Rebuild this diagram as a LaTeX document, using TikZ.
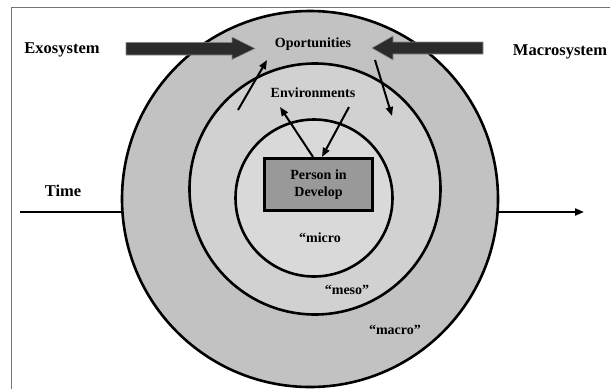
\documentclass[tikz,border=0pt]{standalone}
\usepackage{fontspec}
\setmainfont{Liberation Serif}
\usetikzlibrary{arrows.meta}
\begin{document}
\begin{tikzpicture}[x=1pt,y=-1pt,
  ring/.style={circle,draw=black,line width=2.6pt,inner sep=0pt},
  lbl/.style={font=\bfseries\fontsize{14}{16}\selectfont,inner sep=0pt},
  biglbl/.style={font=\bfseries\fontsize{16.5}{18}\selectfont,inner sep=0pt},
  thin/.style={line width=2pt,-{Triangle[length=9pt,width=7pt]}},
  bigarrow/.style={fill=black!83,draw=black!45,line width=0.6pt}]
\useasboundingbox (0,0) rectangle (610,389);
\fill[white] (0,0) rectangle (610,389);
% frame
\draw[black!55,line width=1pt] (11,389) -- (11,7) -- (610,7);
% rings
\node[ring,fill=black!24,minimum size=376pt] (macro) at (310,199) {};
\node[ring,fill=black!18,minimum size=251pt] (meso) at (315,189) {};
\node[ring,fill=black!15,minimum size=157pt] (micro) at (314,198) {};
% person box
\node[draw=black,line width=3.2pt,fill=black!40,minimum width=108pt,minimum height=52pt,
      align=center,font=\bfseries\fontsize{14}{17}\selectfont] (person) at (318.5,184.5) {Person in\\Develop};
% labels
\node[biglbl] (exo) at (62,50) {Exosystem};
\node[biglbl] (macsys) at (560,52) {Macrosystem};
\node[lbl] (opp) at (313,44) {Oportunities};
\node[lbl] (env) at (313,93) {Environments};
\node[biglbl] (time) at (63,191) {Time};
\node[lbl] (lmicro) at (320,238) {``micro};
\node[lbl] (lmeso) at (347,290) {``meso''};
\node[lbl] (lmacro) at (395,330) {``macro''};
% big arrows
\draw[bigarrow] (126,42.3) -- (232,42.3) -- (232,37) -- (255,48.5) -- (232,59.5) -- (232,55) -- (126,55) -- cycle;
\draw[bigarrow] (483,42) -- (393,42) -- (393,36) -- (372,48) -- (393,60) -- (393,54) -- (483,54) -- cycle;
% small arrows
\coordinate (a1s) at (238,110);
\coordinate (a1e) at (267,60);
\coordinate (a2s) at (375,60);
\coordinate (a2e) at (392,116);
\draw[thin] (a1s) -- (a1e);
\draw[thin] (a2s) -- (a2e);
\coordinate (envl) at (280,107);
\coordinate (envr) at (349,107);
\draw[thin] (person.north -| 313,0) -- (envl);
\draw[thin] (envr) -- (person.north -| 322,0);
% time line
\coordinate (tstart) at (20,212);
\coordinate (tend) at (584,212);
\draw[line width=2.4pt] (tstart) -- (macro.west |- tstart);
\draw[line width=2pt,-{Triangle[length=9pt,width=7pt]}] (macro.east |- tend) -- (tend);
\end{tikzpicture}
\end{document}
